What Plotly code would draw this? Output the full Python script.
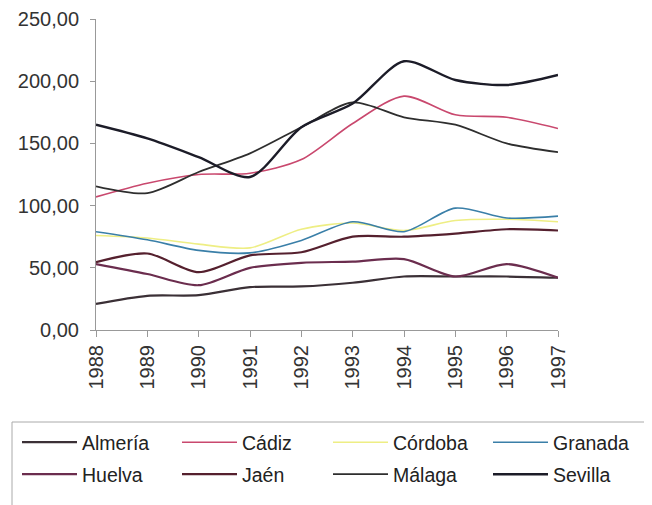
import plotly.graph_objs as go

# years on the category axis
years = ["1988", "1989", "1990", "1991", "1992", "1993", "1994", "1995", "1996", "1997"]

# index values per province
almeria = [21, 27.5, 28, 34.5, 35, 38, 43, 43, 43, 42]
cadiz = [107, 118, 125, 126, 137, 166, 188, 173, 171, 162]
cordoba = [76, 74, 69, 66, 81, 86, 80, 88, 89, 87]
granada = [79, 72.5, 64, 62, 72, 87, 79, 98, 90, 91.5]
huelva = [53, 45, 36, 50, 54, 55, 57, 43, 53, 42]
jaen = [54.5, 61.5, 46.5, 60, 62.5, 75, 75, 77.5, 81, 80]
malaga = [115.5, 110, 127, 142, 163, 183, 171, 165, 150, 143]
sevilla = [165, 154, 139, 123, 163, 182, 216, 201, 197, 205]

names = ["Almería", "Cádiz", "Córdoba", "Granada", "Huelva", "Jaén", "Málaga", "Sevilla"]
series = [almeria, cadiz, cordoba, granada, huelva, jaen, malaga, sevilla]
colors = ["#3b3036", "#c9486e", "#eeee84", "#3a7fa8", "#6b2d4e", "#55202e", "#2e2e2e", "#1c1c28"]
widths = [2.2, 1.6, 1.6, 1.6, 2.2, 2.2, 1.8, 2.4]
# legend box is a 2 x 4 grid; each pair of columns in a row is its own legend
slots = ["legend", "legend", "legend2", "legend2", "legend3", "legend3", "legend4", "legend4"]

traces = []
for n, s, c, w, lg in zip(names, series, colors, widths, slots):
    traces.append(go.Scatter(x=years, y=s, name=n, mode="lines", legend=lg,
                             line=dict(color=c, width=w, shape="spline", smoothing=0.8)))

# the page body has an 8px margin, so the figure is drawn 8px smaller
W, H = 644, 497

legend_style = dict(orientation="h", xref="container", yref="container",
                    xanchor="left", yanchor="top",
                    entrywidth=90, entrywidthmode="pixels", itemwidth=55,
                    borderwidth=0, bgcolor="rgba(0,0,0,0)",
                    font=dict(size=19.5, color="#222"))

layout = go.Layout(
    width=W, height=H,
    margin=dict(l=88, r=94, t=11, b=175),
    paper_bgcolor="white", plot_bgcolor="white",
    separators=",.",
    font=dict(family="Liberation Sans, Arial, sans-serif", size=20, color="#333"),
    showlegend=True,
    xaxis=dict(type="category", range=[0, 9], showgrid=False, showline=True,
               linecolor="#999", linewidth=1, ticks="outside", tickcolor="#999",
               ticklen=6, tickangle=-90, automargin=False),
    yaxis=dict(range=[0, 250], dtick=50, tickformat=".2f", showgrid=False,
               showline=True, linecolor="#999", linewidth=1, ticks="outside",
               tickcolor="#999", ticklen=5, zeroline=False, automargin=False,
               ticklabelstandoff=7),
    legend=dict(legend_style, x=9 / W, y=1 - 415 / H),
    legend2=dict(legend_style, x=320 / W, y=1 - 415 / H),
    legend3=dict(legend_style, x=9 / W, y=1 - 447 / H),
    legend4=dict(legend_style, x=320 / W, y=1 - 447 / H),
    shapes=[dict(type="rect", xref="paper", yref="paper",
                 x0=(4 - 88) / 462, x1=(700 - 88) / 462,
                 y0=(322 - 520) / 311, y1=(322 - 414) / 311,
                 line=dict(color="#aaa", width=1))],
)

fig = go.Figure(data=traces, layout=layout)
fig.write_html("out.html")
